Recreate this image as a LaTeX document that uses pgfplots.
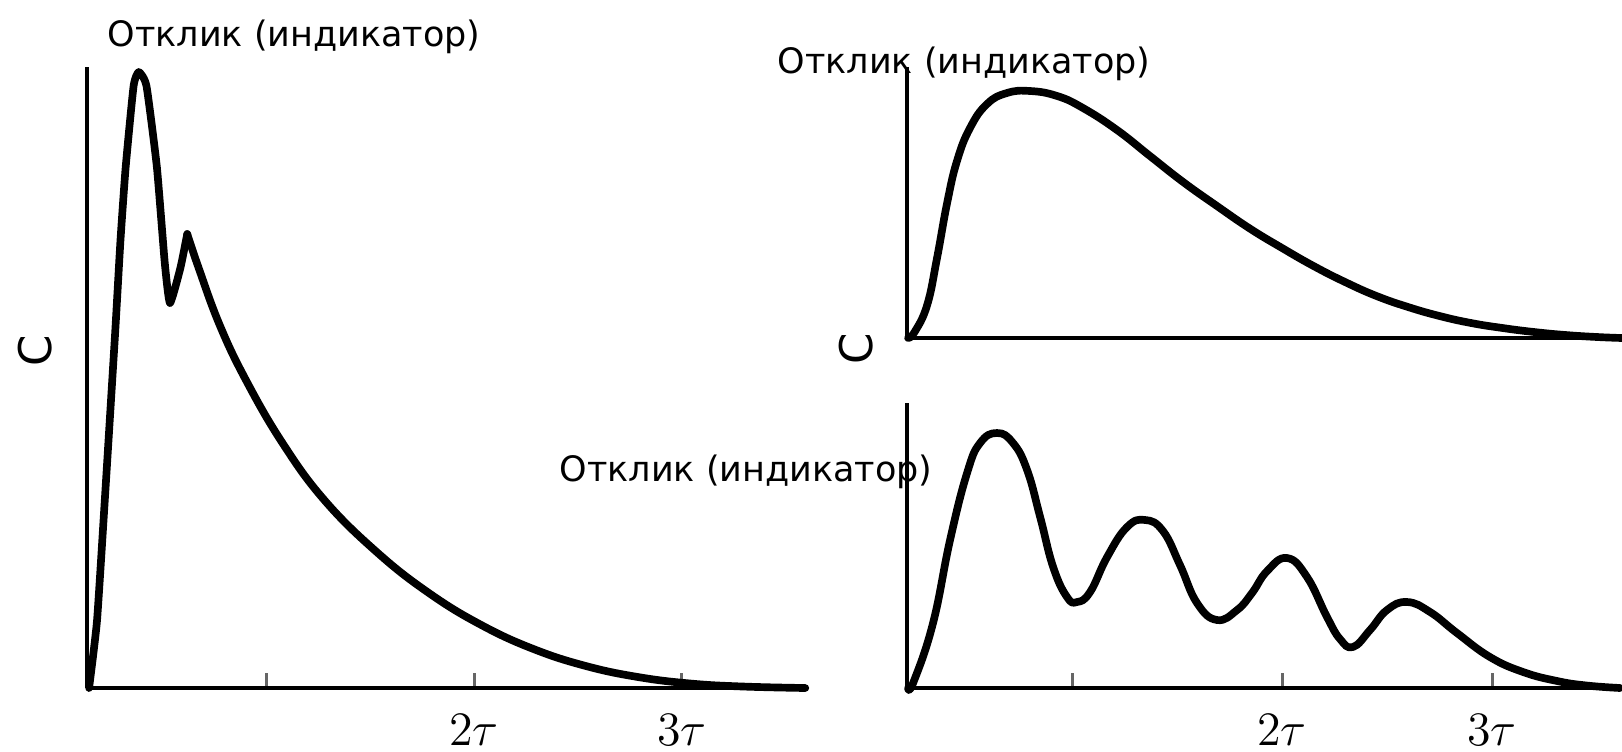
\documentclass[border=0pt]{standalone}
\usepackage{fontspec}
\setmainfont{DejaVu Sans}
\usepackage{pgfplots}
\pgfplotsset{compat=1.18}
\begin{document}
\begin{tikzpicture}
\pgfplotsset{
  resp/.style={scale only axis, anchor=south west,
    axis x line=bottom, axis y line=left,
    axis line style={-, line width=1.3pt, black},
    ytick=\empty, clip=false,
    tick align=inside, major tick length=4.5pt,
    xtick style={line width=0.9pt, black!60},
    xticklabel style={font=\fontsize{15}{15}\selectfont, inner sep=0pt, yshift=-7.9pt, anchor=north},
  },
  curve/.style={black, line width=2.3pt, smooth, tension=0.75, line join=round, line cap=round, mark=none}
}
% left panel
\begin{axis}[resp, at={(26.1pt,-206.4pt)}, width=216.3pt, height=186.3pt,
  xmin=0.139, xmax=3.606, ymin=0, ymax=621,
  xtick={1,2,3}, xticklabels={,$2\tau$,$3\tau$}]
\addplot[curve, tension=0.3] coordinates {
(0.149,0) (0.187,67) (0.224,186) (0.274,354) (0.300,448) (0.325,521) (0.363,602)
(0.388,616) (0.425,602) (0.475,521) (0.513,425) (0.538,385) (0.588,420) (0.621,454)};
\addplot[curve, tension=0.7] coordinates {
(0.621,454) (0.676,420) (0.777,363) (0.903,308) (1.079,245) (1.280,188) (1.532,136)
(1.783,95) (2.035,63) (2.286,39) (2.538,22) (2.788,11) (3.040,4.5) (3.292,1.5) (3.593,0)};
\end{axis}
% top right panel
\begin{axis}[resp, at={(272.1pt,-101.4pt)}, width=214.5pt, height=81.3pt,
  xmin=0.214, xmax=3.619, ymin=0, ymax=271, xtick=\empty]
\addplot[curve] coordinates {
(0.219,0) (0.250,6) (0.310,33) (0.357,80) (0.405,135) (0.452,177) (0.514,210)
(0.595,234) (0.690,245) (0.800,247) (0.929,242) (1.052,230) (1.214,208) (1.371,182)
(1.529,156) (1.690,132) (1.850,109) (2.000,90) (2.150,72) (2.300,56) (2.450,42)
(2.600,31) (2.750,22) (2.900,15) (3.050,10) (3.200,6) (3.350,3) (3.500,1) (3.619,0)};
\end{axis}
% bottom right panel
\begin{axis}[resp, at={(272.1pt,-206.4pt)}, width=214.5pt, height=85.5pt,
  xmin=0.214, xmax=3.619, ymin=0, ymax=285,
  xtick={1,2,3}, xticklabels={,$2\tau$,$3\tau$}]
\addplot[curve] coordinates {
(0.219,0) (0.245,6) (0.338,65) (0.419,148) (0.500,215) (0.562,245) (0.643,255)
(0.719,245) (0.786,218) (0.848,171) (0.910,121) (0.976,91) (1.024,86) (1.086,96)
(1.167,131) (1.262,161) (1.348,168) (1.433,157) (1.514,123) (1.595,85) (1.690,68)
(1.786,78) (1.857,95) (1.929,117) (2.024,130) (2.119,111) (2.214,71) (2.276,49)
(2.338,41) (2.419,58) (2.500,78) (2.595,86) (2.705,76) (2.833,55) (2.990,31)
(3.148,16) (3.310,7) (3.450,2.5) (3.610,0)};
\end{axis}
% titles
\node[anchor=base west, font=\fontsize{10.5}{12}\selectfont, inner sep=0pt] at (32.1pt,-13.8pt) {Отклик (индикатор)};
\node[anchor=base west, font=\fontsize{10.5}{12}\selectfont, inner sep=0pt] at (233.1pt,-21.9pt) {Отклик (индикатор)};
\node[anchor=base west, font=\fontsize{10.5}{12}\selectfont, inner sep=0pt] at (167.7pt,-144.3pt) {Отклик (индикатор)};
% y labels
\node[rotate=90, font=\fontsize{13.5}{14}\selectfont, inner sep=0pt] at (10.5pt,-105.3pt) {C};
\node[rotate=90, font=\fontsize{13.5}{14}\selectfont, inner sep=0pt] at (256.8pt,-104.7pt) {C};
\pgfresetboundingbox
\path[use as bounding box] (0pt,0pt) rectangle (486.6pt,-225.3pt);
\end{tikzpicture}
\end{document}
